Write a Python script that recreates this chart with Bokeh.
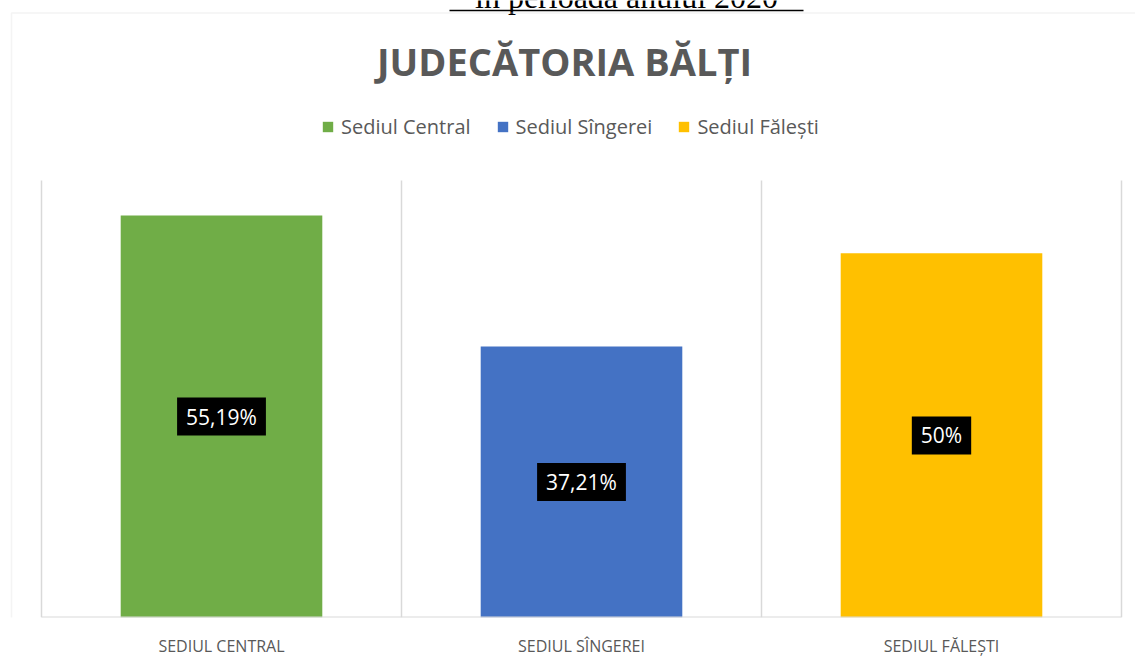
from bokeh.plotting import figure
from bokeh.models import (ColumnDataSource, Range1d, Label, Legend, LegendItem,
                          BoxAnnotation, FixedTicker)
from bokeh.embed import file_html
from bokeh.resources import INLINE

categories = ["Sediul Central", "Sediul Sîngerei", "Sediul Fălești"]
values = [55.19, 37.21, 50.0]
value_labels = ["55,19%", "37,21%", "50%"]
axis_labels = ["SEDIUL CENTRAL", "SEDIUL SÎNGEREI", "SEDIUL FĂLEȘTI"]
colors = ["#70AD47", "#4472C4", "#FFC000"]
title_text = "JUDECĂTORIA BĂLȚI"
top_text = "în perioada anului 2020"

# ---- layout constants (pixels) ----
W, H = 1135, 666
PLOT_L, PLOT_R, PLOT_T, PLOT_B = 41, 1121, 180, 617   # chart plot area
Y_MAX = 60.0
n = len(categories)
cat_px = (PLOT_R - PLOT_L) / n
ppu = (PLOT_B - PLOT_T) / Y_MAX


def dx(sx):   # screen x -> data x
    return (sx - PLOT_L) / cat_px


def dy(sy):   # screen y -> data y
    return (PLOT_B - sy) / ppu


p = figure(width=W, height=H, output_backend="svg", toolbar_location=None,
           x_range=Range1d(dx(0), dx(W)), y_range=Range1d(0, dy(0)),
           y_axis_location=None,
           min_border_left=0, min_border_right=0, min_border_top=0, min_border_bottom=H - PLOT_B)
p.outline_line_color = None
p.background_fill_color = "white"
p.border_fill_color = "white"
p.xgrid.visible = False
p.ygrid.visible = False

xpos = [i + 0.5 for i in range(n)]
src = ColumnDataSource(dict(x=xpos, val=values, color=colors, cat=categories))

# category separators (vertical grid) and baseline
bounds = list(range(n + 1))
p.segment(x0=bounds, y0=[0] * len(bounds), x1=bounds, y1=[Y_MAX] * len(bounds),
          line_color="#d9d9d9", line_width=1.5)

r = p.vbar(x="x", top="val", width=0.56, fill_color="color", line_color=None, source=src)

p.segment(x0=[0], y0=[0], x1=[n], y1=[0], line_color="#d9d9d9", line_width=2)

# x axis with category labels
ax = p.xaxis[0]
ax.ticker = FixedTicker(ticks=xpos)
ax.major_label_overrides = {x: t for x, t in zip(xpos, axis_labels)}
ax.axis_line_color = None
ax.major_tick_line_color = None
ax.minor_tick_line_color = None
ax.major_label_standoff = 11
ax.major_label_text_font = "Open Sans"
ax.major_label_text_font_size = "16px"
ax.major_label_text_color = "#595959"

# value labels
for x, v, t in zip(xpos, values, value_labels):
    p.add_layout(Label(x=x, y=v / 2, text=t, text_align="center", text_baseline="middle",
                       text_font="Open Sans", text_font_size="21px", text_color="white",
                       background_fill_color="black", padding=(9, 5)))

# legend
items = [LegendItem(label=c, renderers=[r], index=i) for i, c in enumerate(categories)]
legend = Legend(items=items, orientation="horizontal", location=(321, 477),
                glyph_width=13, glyph_height=13, label_standoff=7, spacing=25,
                label_height=20, padding=0, margin=0, border_line_color=None,
                background_fill_alpha=0,
                label_text_font="Open Sans", label_text_font_size="20px",
                label_text_color="#595959")
p.add_layout(legend, "center")

# chart title
p.add_layout(Label(x=dx(564), y=dy(60), text=title_text,
                   text_align="center", text_baseline="alphabetic", text_font="Open Sans",
                   text_font_style="bold", text_font_size="38px", text_color="#595959"))

# document heading cropped at the top of the picture, underlined
p.add_layout(Label(x=dx(626), y=dy(-4), text=top_text,
                   text_align="center", text_baseline="alphabetic", text_font="Liberation Serif",
                   text_font_size="32px", text_color="black"))
p.add_layout(BoxAnnotation(left=dx(449), right=dx(803), top=dy(9.2), bottom=dy(10.8),
                           fill_color="black", fill_alpha=1, line_color=None))

# outer chart border
p.add_layout(BoxAnnotation(left=dx(11), right=dx(W + 40), top=dy(12.5), bottom=dy(H + 40),
                           fill_alpha=0, line_color="#d9d9d9", line_width=1.5))

open("out.html", "w").write(file_html(p, INLINE))
